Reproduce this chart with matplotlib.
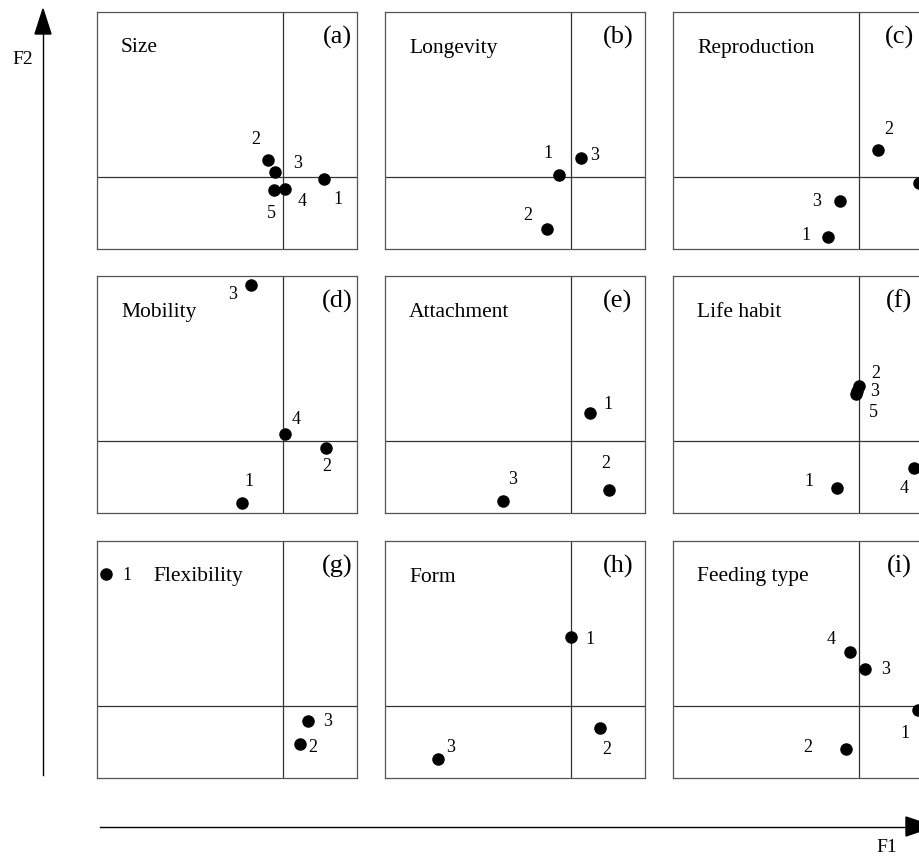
import matplotlib
matplotlib.use("Agg")
import matplotlib.pyplot as plt
from matplotlib.patches import Polygon

plt.rcParams['font.family'] = ['Liberation Serif', 'DejaVu Serif']

# Panel names and tags (3x3 grid, row by row)
titles = ['Size', 'Longevity', 'Reproduction',
          'Mobility', 'Attachment', 'Life habit',
          'Flexibility', 'Form', 'Feeding type']
tags = ['(a)', '(b)', '(c)', '(d)', '(e)', '(f)', '(g)', '(h)', '(i)']

# F1 / F2 scores of each modality
size_f1 = [0.41, -0.15, -0.08, 0.02, -0.09]
size_f2 = [-0.02, 0.17, 0.05, -0.12, -0.13]
longevity_f1 = [-0.12, -0.24, 0.10]
longevity_f2 = [0.02, -0.52, 0.19]
reproduction_f1 = [-0.31, 0.19, -0.19, 0.60]
reproduction_f2 = [-0.60, 0.27, -0.24, -0.06]
mobility_f1 = [-0.41, 0.43, -0.32, 0.02]
mobility_f2 = [-0.62, -0.07, 1.56, 0.07]
attachment_f1 = [0.19, 0.38, -0.68]
attachment_f2 = [0.28, -0.49, -0.60]
lifehabit_f1 = [-0.22, 0.00, -0.02, 0.55, -0.03]
lifehabit_f2 = [-0.47, 0.55, 0.50, -0.27, 0.47]
flexibility_f1 = [-1.77, 0.17, 0.25]
flexibility_f2 = [1.32, -0.38, -0.15]
form_f1 = [0.00, 0.29, -1.33]
form_f2 = [0.69, -0.22, -0.53]
feeding_f1 = [0.59, -0.13, 0.06, -0.09]
feeding_f2 = [-0.04, -0.43, 0.37, 0.54]

f1_all = [size_f1, longevity_f1, reproduction_f1, mobility_f1, attachment_f1,
          lifehabit_f1, flexibility_f1, form_f1, feeding_f1]
f2_all = [size_f2, longevity_f2, reproduction_f2, mobility_f2, attachment_f2,
          lifehabit_f2, flexibility_f2, form_f2, feeding_f2]

# where each number label sits relative to its dot (pixels)
label_offsets = [
    [(14, -20), (-12, 21), (23, 8), (17, -12), (-3, -24)],
    [(-11, 22), (-19, 14), (14, 3)],
    [(-22, 2), (11, 21), (-23, 0), (4, 19)],
    [(7, 22), (1, -18), (-18, -9), (11, 15)],
    [(18, 9), (-3, 26), (10, 21)],
    [(-28, 7), (17, 13), (18, 0), (-10, -20), (17, -18)],
    [(21, -1), (13, -4), (20, 0)],
    [(19, -2), (7, -21), (13, 11)],
    [(-13, -23), (-38, 1), (21, 0), (-19, 13)],
]
# title x position inside each panel (pixels from left edge)
title_x = [24, 24, 24, 24, 24, 24, 56, 24, 24]
tag_x = [240, 233, 226]

W, H = 920, 856
fig = plt.figure(figsize=(W / 100, H / 100), dpi=100)

col_left = [97, 385, 673]
row_top = [12, 276, 541]
pw, ph = 260, 237
xlim = (-1.86, 0.74)
ylim = (-0.72, 1.65)
frame_col = '#555555'

for i in range(9):
    r, c = divmod(i, 3)
    ax = fig.add_axes([col_left[c] / W, 1 - (row_top[r] + ph) / H, pw / W, ph / H])
    ax.set_xlim(*xlim)
    ax.set_ylim(*ylim)
    ax.set_xticks([])
    ax.set_yticks([])
    for s in ax.spines.values():
        s.set_linewidth(0.9)
        s.set_color(frame_col)
    ax.axhline(0, color='#333333', lw=0.9)
    ax.axvline(0, color='#333333', lw=0.9)
    ax.plot(f1_all[i], f2_all[i], 'o', color='black', ms=8, mec='black')
    for k, (x, y) in enumerate(zip(f1_all[i], f2_all[i])):
        ax.annotate(str(k + 1), (x, y), xytext=label_offsets[i][k],
                    textcoords='offset pixels', ha='center', va='center',
                    fontsize=13)
    ax.text(title_x[i] / pw, 1 - 36 / ph, titles[i], transform=ax.transAxes,
            ha='left', va='center', fontsize=15.5)
    ax.text(tag_x[c] / pw, 1 - 25 / ph, tags[i], transform=ax.transAxes,
            ha='center', va='center', fontsize=19)

# overlay in pixel units for the F1 / F2 arrows
ov = fig.add_axes([0, 0, 1, 1], zorder=5)
ov.set_xlim(0, W)
ov.set_ylim(H, 0)
ov.axis('off')
ov.patch.set_alpha(0)

ov.plot([43, 43], [775, 30], color='black', lw=1.0)
ov.add_patch(Polygon([[43, 9], [35, 34], [51, 34]], closed=True, color='black'))
ov.text(23, 59, 'F2', ha='center', va='center', fontsize=14)

ov.plot([100, 910], [826.5, 826.5], color='black', lw=1.0)
ov.add_patch(Polygon([[906, 817], [906, 836], [934, 826.5]], closed=True, color='black'))
ov.text(887, 848, 'F1', ha='center', va='center', fontsize=14)

fig.savefig('out.png', dpi=100)
